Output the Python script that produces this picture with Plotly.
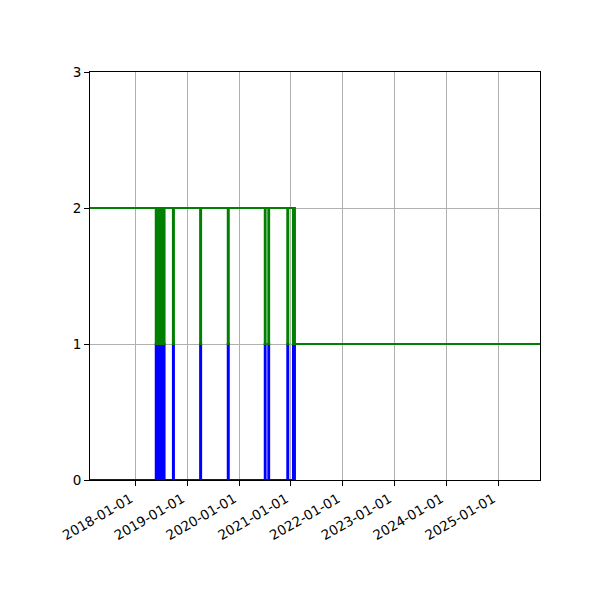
import plotly.graph_objects as go

# step change dates and the level each series takes from that date on
change_dates = ["2017-02-13",
                "2018-05-23", "2018-05-29", "2018-06-02", "2018-06-10",
                "2018-06-14", "2018-06-22", "2018-06-26", "2018-07-06",
                "2018-07-10", "2018-07-24",
                "2018-09-21", "2018-09-28",
                "2019-04-01", "2019-04-08",
                "2019-10-13", "2019-10-20",
                "2020-06-30", "2020-07-06",
                "2020-07-25", "2020-07-31",
                "2020-12-06", "2020-12-13",
                "2021-01-15", "2021-01-22",
                "2021-01-29", "2025-10-24"]
green_vals = [2,
              1, 2, 1, 2,
              1, 2, 1, 2,
              1, 2,
              1, 2,
              1, 2,
              1, 2,
              1, 2,
              1, 2,
              1, 2,
              1, 2,
              1, 1]
blue_vals = [0,
             1, 0, 1, 0,
             1, 0, 1, 0,
             1, 0,
             1, 0,
             1, 0,
             1, 0,
             1, 0,
             1, 0,
             1, 0,
             1, 0,
             1, 1]

tick_dates = ["2018-01-01", "2019-01-01", "2020-01-01", "2021-01-01",
              "2022-01-01", "2023-01-01", "2024-01-01", "2025-01-01"]
y_ticks = [0, 1, 2, 3]

fig = go.Figure()
fig.add_trace(go.Scatter(x=change_dates, y=blue_vals, mode='lines',
                         line=dict(color='#0000ff', width=2, shape='hv'),
                         showlegend=False))
fig.add_trace(go.Scatter(x=change_dates, y=green_vals, mode='lines',
                         line=dict(color='#008000', width=2, shape='hv'),
                         showlegend=False))

axis_style = dict(showline=True, linecolor='black', linewidth=1, mirror=True,
                  ticks='outside', ticklen=5, tickcolor='black',
                  showgrid=True, gridcolor='#b0b0b0', gridwidth=1,
                  zeroline=False, tickfont=dict(size=13.5, color='black'))

fig.update_xaxes(type='date', range=["2017-02-13", "2025-10-24"],
                 tickvals=tick_dates, ticktext=tick_dates, tickangle=-30,
                 ticklabelshift=-5, **axis_style)
fig.update_yaxes(range=[0, 3], tickvals=y_ticks, **axis_style)

# page body adds 8px, so margins are shifted to land the plot box at 90..540 / 72..480
fig.update_layout(width=600, height=600,
                  margin=dict(l=82, r=68, t=64, b=128),
                  plot_bgcolor='white', paper_bgcolor='white',
                  font=dict(family='DejaVu Sans', color='black'))

fig.write_html("out.html")
